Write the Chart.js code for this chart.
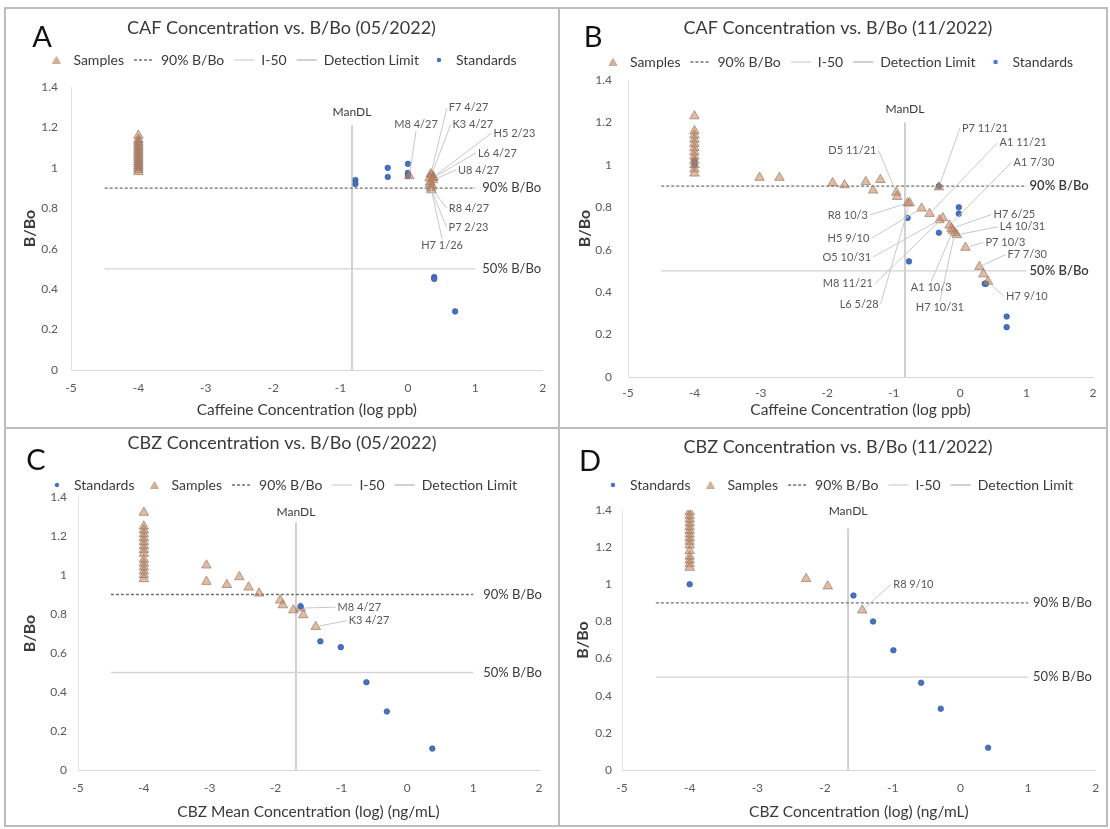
<!DOCTYPE html>
<html>
<head>
<meta charset="utf-8">
<script src="https://cdn.jsdelivr.net/npm/chart.js@4.4.1/dist/chart.umd.min.js"></script>
<style>
  html,body{margin:0;padding:0;background:#fff;}
  body{width:1110px;height:829px;position:relative;overflow:hidden;font-family:Lato,sans-serif;}
  .ln{position:absolute;background:#BDBDBD;}
  canvas{position:absolute;}
</style>
</head>
<body>
<div class="ln" style="left:4px;top:7px;width:1103px;height:2px;"></div>
<div class="ln" style="left:4px;top:825px;width:1103px;height:2px;"></div>
<div class="ln" style="left:4px;top:7px;width:2px;height:820px;"></div>
<div class="ln" style="left:1106px;top:7px;width:2px;height:820px;"></div>
<div class="ln" style="left:558px;top:7px;width:2px;height:820px;"></div>
<div class="ln" style="left:4px;top:427px;width:1103px;height:2px;"></div>

<canvas id="cA" width="552" height="415" style="left:5px;top:8px;"></canvas>
<canvas id="cB" width="547" height="415" style="left:560px;top:8px;"></canvas>
<canvas id="cC" width="552" height="398" style="left:5px;top:426px;"></canvas>
<canvas id="cD" width="550" height="398" style="left:560px;top:426px;"></canvas>

<script>
// ---------------- shared tick labels / reference values ----------------
const xTickLabels = ['-5','-4','-3','-2','-1','0','1','2'];
const yTickLabels = ['0','0.2','0.4','0.6','0.8','1','1.2','1.4'];
const refLineX = [-4.5, 1];
const ref90Y = [0.9, 0.9];
const ref50Y = [0.5, 0.5];
const ref90Text = '90% B/Bo';
const ref50Text = '50% B/Bo';
const detText = 'ManDL';

// ---------------- Panel A: CAF 05/2022 ----------------
const aSampleX = [-4,-4,-4,-4,-4,-4,-4,-4,-4,-4,-4,-4,-4,-4,-4,-4,-4,-4,
  0.34,0.35,0.38,0.37,0.37,0.34,0.35,0.33,0.02,0.33,0.36,0.32];
const aSampleY = [1.16,1.14,1.13,1.12,1.11,1.10,1.09,1.08,1.07,1.06,1.05,1.04,1.03,1.02,1.01,1.0,0.99,0.98,
  0.97,0.965,0.955,0.95,0.94,0.90,0.89,0.92,0.96,0.93,0.91,0.95];
const aSampleNames = ['','','','','','','','','','','','','','','','','','',
  'F7 4/27','K3 4/27','H5 2/23','L6 4/27','U8 4/27','R8 4/27','P7 2/23','H7 1/26','M8 4/27','','',''];
const aStdX = [-4,-4,-0.78,-0.78,-0.3,-0.3,0,0,0,0.39,0.39,0.7];
const aStdY = [1.0,1.02,0.94,0.92,1.0,0.955,1.02,0.975,0.96,0.46,0.45,0.29];
const aDetX = [-0.83,-0.83];
const aDetY = [0,1.21];

// ---------------- Panel B: CAF 11/2022 ----------------
const bSampleX = [-4,-4,-4,-4,-4,-4,-4,-4,-4,-4,-4,-4,
  -3.02,-2.72,-1.92,-1.74,-1.42,-1.2,-1.31,-0.96,-0.95,-0.79,-0.76,-0.58,-0.46,-0.31,-0.26,-0.16,-0.11,-0.08,0.08,0.29,0.35,0.42,-0.32,-0.13,-0.05];
const bSampleY = [1.23,1.16,1.14,1.12,1.10,1.08,1.06,1.04,1.02,1.0,0.98,0.96,
  0.94,0.94,0.915,0.905,0.92,0.93,0.88,0.87,0.85,0.82,0.82,0.795,0.77,0.74,0.75,0.715,0.69,0.68,0.61,0.52,0.485,0.45,0.895,0.70,0.67];
const bSampleNames = ['','','','','','','','','','','','',
  '','','','','','','','D5 11/21','','R8 10/3','L6 5/28','H5 9/10','A1 11/21','O5 10/31','M8 11/21','A1 7/30','A1 10/3','H7 10/31','P7 10/3','F7 7/30','','H7 9/10','P7 11/21','H7 6/25','L4 10/31'];
const bStdX = [-4,-4,-0.79,-0.77,-0.32,-0.32,-0.02,-0.02,0.37,0.39,0.70,0.70];
const bStdY = [1.0,1.02,0.75,0.545,0.9,0.68,0.80,0.77,0.44,0.44,0.285,0.235];
const bDetX = [-0.83,-0.83];
const bDetY = [0,1.2];

// ---------------- Panel C: CBZ 05/2022 ----------------
const cStdX = [-1.62,-1.32,-1.01,-0.62,-0.31,0.38];
const cStdY = [0.84,0.66,0.63,0.45,0.30,0.11];
const cSampleX = [-4,-4,-4,-4,-4,-4,-4,-4,-4,-4,-4,-4,-4,-4,-4,
  -3.05,-3.05,-2.74,-2.55,-2.41,-2.25,-1.93,-1.89,-1.73,-1.62,-1.58,-1.39];
const cSampleY = [1.32,1.25,1.23,1.21,1.19,1.17,1.15,1.13,1.11,1.08,1.06,1.04,1.02,1.0,0.98,
  1.05,0.966,0.95,0.99,0.937,0.906,0.87,0.846,0.82,0.83,0.795,0.735];
const cSampleNames = ['','','','','','','','','','','','','','','',
  '','','','','','','','','','M8 4/27','','K3 4/27'];
const cDetX = [-1.69,-1.69];
const cDetY = [0,1.27];

// ---------------- Panel D: CBZ 11/2022 ----------------
const dStdX = [-4,-1.58,-1.29,-0.99,-0.58,-0.29,0.41];
const dStdY = [1.0,0.94,0.80,0.645,0.47,0.33,0.12];
const dSampleX = [-4,-4,-4,-4,-4,-4,-4,-4,-4,-4,-4,-4,-4,-4,-4,-2.28,-1.96,-1.45];
const dSampleY = [1.39,1.37,1.35,1.33,1.31,1.29,1.27,1.25,1.23,1.21,1.18,1.15,1.13,1.11,1.09,1.03,0.99,0.86];
const dSampleNames = ['','','','','','','','','','','','','','','','','','R8 9/10'];
const dDetX = [-1.66,-1.66];
const dDetY = [0,1.3];

// ---------------- label placement (pixel offsets from the labelled point) ----------------
const aLabelOffsets = {'F7 4/27':[18,-66],'K3 4/27':[21,-50],'H5 2/23':[60,-44],'L6 4/27':[45,-25],'U8 4/27':[25,-10],
  'R8 4/27':[18,20],'P7 2/23':[17,37],'H7 1/26':[-9,61],'M8 4/27':[-15,-51]};
const bLabelOffsets = {'D5 11/21':[-68,-42],'R8 10/3':[-80,12],'L6 5/28':[-70,101],'H5 9/10':[-94,30],'A1 11/21':[70,-71],
  'O5 10/31':[-117,37],'M8 11/21':[-120,66],'A1 7/30':[64,-63],'A1 10/3':[-42,57],'H7 10/31':[-39,75],'H7 6/25':[42,-14],
  'L4 10/31':[43,-8],'P7 10/3':[20,-5],'F7 7/30':[28,-12],'H7 9/10':[18,15],'P7 11/21':[23,-59]};
const cLabelOffsets = {'M8 4/27':[37,-1],'K3 4/27':[33,-6]};
const dLabelOffsets = {'R8 9/10':[31,-26]};

// ---------------- styles ----------------
const FONT = 'Lato, "Open Sans", sans-serif';
const SAMPLE_FILL = 'rgba(206,130,82,0.55)';
const SAMPLE_EDGE = 'rgba(140,122,110,0.85)';
const STD_FILL = '#4472C4';
const STD_EDGE = '#2F4F8F';
const TXT = '#3A3A3A';

function pts(xs, ys){ return xs.map((x,i)=>({x:x, y:ys[i]})); }

function markerCanvas(kind){
  const c = document.createElement('canvas'); c.width = 10; c.height = 10;
  const g = c.getContext('2d');
  if (kind === 'tri') {
    g.beginPath(); g.moveTo(5,1.5); g.lineTo(9,8.5); g.lineTo(1,8.5); g.closePath();
    g.fillStyle = 'rgba(206,150,112,0.75)'; g.fill();
    g.strokeStyle = 'rgba(160,140,125,0.8)'; g.lineWidth = 0.7; g.stroke();
  } else {
    g.beginPath(); g.arc(5,5,2.2,0,Math.PI*2); g.fillStyle = STD_FILL; g.fill();
  }
  return c;
}
const legendMarkers = {'Samples': markerCanvas('tri'), 'Standards': markerCanvas('dot')};

const notesPlugin = {
  id: 'notes',
  afterDatasetsDraw(chart, args, o) {
    const ctx = chart.ctx, xs = chart.scales.x, ys = chart.scales.y;
    ctx.save();
    // panel letter
    ctx.font = '29px ' + FONT; ctx.fillStyle = '#111'; ctx.textAlign = 'center'; ctx.textBaseline = 'middle';
    ctx.fillText(o.letter, o.letterAt[0], o.letterAt[1]);
    // detection-limit label
    ctx.font = '12px ' + FONT; ctx.fillStyle = TXT;
    ctx.fillText(detText, xs.getPixelForValue(o.detX[0]), ys.getPixelForValue(o.detY[1]) + o.detDy);
    // reference line labels
    ctx.textAlign = 'left';
    ctx.font = (o.refBold ? '600 ' : '') + '13px ' + FONT;
    const lx = xs.getPixelForValue(refLineX[1]) + o.refGap;
    ctx.fillText(ref90Text, lx, ys.getPixelForValue(ref90Y[1]));
    ctx.fillText(ref50Text, lx, ys.getPixelForValue(ref50Y[1]));
    // sample labels with leader lines
    ctx.font = '11px ' + FONT;
    o.names.forEach((nm, i) => {
      if (!nm || !o.offsets[nm]) return;
      const ax = xs.getPixelForValue(o.sx[i]), ay = ys.getPixelForValue(o.sy[i]);
      const [dx, dy] = o.offsets[nm];
      const L = ax + dx, cy = ay + dy, w = ctx.measureText(nm).width;
      let tx, ty;
      if (L > ax + 3) { tx = L - 2; ty = cy; }
      else if (L + w < ax - 3) { tx = L + w + 2; ty = cy; }
      else if (cy < ay) { tx = L + w/2; ty = cy + 6; }
      else { tx = L + w/2; ty = cy - 6; }
      const d = Math.hypot(tx - ax, ty - ay);
      if (d > 10) {
        ctx.beginPath(); ctx.strokeStyle = '#C8C8C8'; ctx.lineWidth = 1;
        ctx.moveTo(ax + (tx-ax)*4/d, ay + (ty-ay)*4/d); ctx.lineTo(tx, ty); ctx.stroke();
      }
      ctx.fillStyle = '#595959';
      ctx.fillText(nm, L, cy);
    });
    ctx.restore();
  }
};

function buildChart(id, p) {
  const samples = {label:'Samples', data:pts(p.sx, p.sy), pointStyle:'triangle', pointRadius:5.5, pointHoverRadius:5.5,
    backgroundColor:SAMPLE_FILL, borderColor:SAMPLE_EDGE, borderWidth:0.8, xAxisID:'x', yAxisID:'y'};
  const standards = {label:'Standards', data:pts(p.stx, p.sty), pointStyle:'circle', pointRadius:2.8, pointHoverRadius:2.8,
    backgroundColor:STD_FILL, borderColor:STD_EDGE, borderWidth:0.6, xAxisID:'x', yAxisID:'y'};
  const l90 = {label:'90% B/Bo', data:pts(refLineX, ref90Y), showLine:true, borderColor:'#707070', backgroundColor:'#707070',
    borderWidth:1.3, borderDash:[3,2], pointRadius:0, pointHoverRadius:0, xAxisID:'x', yAxisID:'y'};
  const l50 = {label:'I-50', data:pts(refLineX, ref50Y), showLine:true, borderColor:'#D3D3D3', backgroundColor:'#D3D3D3',
    borderWidth:1.3, pointRadius:0, pointHoverRadius:0, xAxisID:'x', yAxisID:'y'};
  const ldl = {label:'Detection Limit', data:pts(p.detX, p.detY), showLine:true, borderColor:'#A2A2A2', backgroundColor:'#A2A2A2',
    borderWidth:1, pointRadius:0, pointHoverRadius:0, xAxisID:'x', yAxisID:'y'};
  const datasets = p.standardsFirst ? [standards, samples, l90, l50, ldl] : [samples, l90, l50, ldl, standards];

  return new Chart(document.getElementById(id), {
    type: 'scatter',
    data: {datasets: datasets},
    plugins: [notesPlugin],
    options: {
      responsive: false, animation: false, devicePixelRatio: 1, events: [],
      layout: {padding: p.pad},
      plugins: {
        tooltip: {enabled: false},
        title: {display: true, text: p.title, color: TXT, font: {family: FONT, size: 18, weight: 'normal'},
          padding: {top: p.titlePad[0], bottom: p.titlePad[1]}},
        legend: {
          display: true, position: 'top', maxHeight: p.legendMaxH,
          labels: {
            usePointStyle: true, pointStyleWidth: 20, boxHeight: 6, padding: 10, color: TXT,
            font: {family: FONT, size: 14},
            generateLabels(chart) {
              const items = Chart.defaults.plugins.legend.labels.generateLabels(chart);
              items.forEach(it => {
                const ds = chart.data.datasets[it.datasetIndex];
                if (legendMarkers[ds.label]) { it.pointStyle = legendMarkers[ds.label]; }
                else { it.pointStyle = 'line'; it.lineDash = ds.borderDash || []; it.strokeStyle = ds.borderColor; it.lineWidth = ds.borderWidth; }
                it.fontColor = TXT;
              });
              return items;
            }
          }
        },
        notes: {letter: p.letter, letterAt: p.letterAt, detX: p.detX, detY: p.detY, detDy: p.detDy,
          refGap: p.refGap, refBold: p.refBold, names: p.names, sx: p.sx, sy: p.sy, offsets: p.offsets}
      },
      scales: {
        x: {
          type: 'linear', position: 'bottom', min: -5, max: 2,
          grid: {display: false, drawTicks: false},
          border: {display: true, color: '#D6D6D6', width: 1},
          ticks: {stepSize: 1, autoSkip: false, maxRotation: 0, padding: p.xTickPad, color: '#595959',
            font: {family: FONT, size: 12}, callback: (v, i) => xTickLabels[i]},
          title: {display: true, text: p.xTitle, color: TXT, font: {family: FONT, size: 15.5}, padding: {top: 0, bottom: 0.7}},
          afterFit: s => { s.height = p.xAxisH; }
        },
        xTop: {
          type: 'linear', position: 'top', min: -5, max: 2, display: true,
          grid: {display: false, drawTicks: false}, border: {display: false}, ticks: {display: false},
          afterFit: s => { s.height = p.spacer; }
        },
        y: {
          type: 'linear', position: 'left', min: 0, max: 1.4,
          grid: {display: false, drawTicks: false},
          border: {display: true, color: '#E2E2E2', width: 1},
          ticks: {stepSize: 0.2, padding: p.yTickPad, color: '#595959', font: {family: FONT, size: 12},
            callback: (v, i) => yTickLabels[i]},
          title: {display: true, text: 'B/Bo', color: TXT, font: {family: FONT, size: 16, weight: 'bold'},
            padding: {top: p.yTitlePad, bottom: 0}},
          afterFit: s => { s.width = p.yAxisW; }
        }
      }
    }
  });
}

buildChart('cA', {
  letter: 'A', letterAt: [37, 30], title: 'CAF Concentration vs. B/Bo (05/2022)', xTitle: 'Caffeine Concentration (log ppb)',
  sx: aSampleX, sy: aSampleY, names: aSampleNames, offsets: aLabelOffsets, stx: aStdX, sty: aStdY,
  detX: aDetX, detY: aDetY, detDy: -13, refGap: 7, refBold: false, standardsFirst: false,
  pad: {top: 4, left: 10, right: 9, bottom: 3}, titlePad: [5.2, 4.2], legendMaxH: undefined, spacer: 10,
  yAxisW: 56, yTickPad: 13, yTitlePad: 5.4, xAxisH: 50, xTickPad: 10.8
});
buildChart('cB', {
  letter: 'B', letterAt: [33, 30], title: 'CAF Concentration vs. B/Bo (11/2022)', xTitle: 'Caffeine Concentration (log ppb)',
  sx: bSampleX, sy: bSampleY, names: bSampleNames, offsets: bLabelOffsets, stx: bStdX, sty: bStdY,
  detX: bDetX, detY: bDetY, detDy: -13, refGap: 3, refBold: true, standardsFirst: false,
  pad: {top: 4, left: 23, right: 14, bottom: 3}, titlePad: [5.2, 6.2], legendMaxH: undefined, spacer: 1,
  yAxisW: 45, yTickPad: 16, yTitlePad: -7.6, xAxisH: 43, xTickPad: 8.8
});
buildChart('cC', {
  letter: 'C', letterAt: [31, 35], title: 'CBZ Concentration vs. B/Bo (05/2022)', xTitle: 'CBZ Mean Concentration (log) (ng/mL)',
  sx: cSampleX, sy: cSampleY, names: cSampleNames, offsets: cLabelOffsets, stx: cStdX, sty: cStdY,
  detX: cDetX, detY: cDetY, detDy: -10, refGap: 10, refBold: false, standardsFirst: true,
  pad: {top: 4, left: 20, right: 18, bottom: 2}, titlePad: [2.2, 14.2], legendMaxH: 29, spacer: 0,
  yAxisW: 53, yTickPad: 11, yTitlePad: -4.6, xAxisH: 52, xTickPad: 10.8
});
buildChart('cD', {
  letter: 'D', letterAt: [30, 36], title: 'CBZ Concentration vs. B/Bo (11/2022)', xTitle: 'CBZ Concentration (log) (ng/mL)',
  sx: dSampleX, sy: dSampleY, names: dSampleNames, offsets: dLabelOffsets, stx: dStdX, sty: dStdY,
  detX: dDetX, detY: dDetY, detDy: -17, refGap: 5, refBold: false, standardsFirst: true,
  pad: {top: 4, left: 12, right: 6, bottom: 2}, titlePad: [6.2, 10.2], legendMaxH: undefined, spacer: 8,
  yAxisW: 50, yTickPad: 10, yTitlePad: 1.4, xAxisH: 52, xTickPad: 10.8
});
</script>
</body>
</html>
